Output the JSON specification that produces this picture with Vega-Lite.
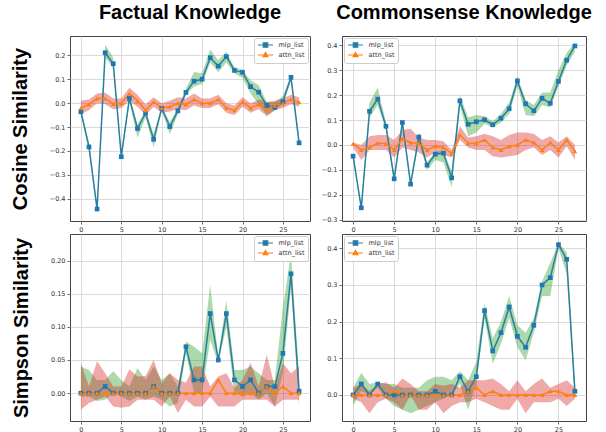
{
"$schema":"https://vega.github.io/schema/vega-lite/v6.json",
"padding":{"left":9,"top":2,"right":0,"bottom":0},
"autosize":{"type":"pad"},
"config":{
 "font":"DejaVu Sans",
 "view":{"stroke":"#444444","strokeWidth":1},
 "axis":{"labelFont":"DejaVu Sans","labelFontSize":6.5,"labelColor":"#333333","tickColor":"#444444","tickSize":3,"tickWidth":0.8,"domain":false,"gridColor":"#d6d6d6","gridWidth":0.9,"labelPadding":2,"titleFont":"Liberation Sans","titleFontSize":20,"titleFontWeight":"bold","titleColor":"#000000"},
 "axisY":{"titlePadding":19},
 "title":{"font":"Liberation Sans","fontSize":20,"fontWeight":"bold","color":"#000000","anchor":"middle","offset":13},
 "legend":{"labelFont":"DejaVu Sans","labelFontSize":6.5,"labelColor":"#333333","fillColor":"#ffffff","strokeColor":"#cccccc","padding":3,"cornerRadius":2,"offset":2,"rowPadding":0,"symbolSize":36,"symbolStrokeWidth":1.2,"symbolOffset":4.5,"labelOffset":9}
},
"data":{"values":[
{"p":"fc","s":"mlp_list","x":0,"y":-0.036,"lo":-0.045,"hi":-0.028},
{"p":"fc","s":"mlp_list","x":1,"y":-0.183,"lo":-0.2,"hi":-0.165},
{"p":"fc","s":"mlp_list","x":2,"y":-0.443,"lo":-0.45,"hi":-0.435},
{"p":"fc","s":"mlp_list","x":3,"y":0.211,"lo":0.19,"hi":0.245},
{"p":"fc","s":"mlp_list","x":4,"y":0.165,"lo":0.15,"hi":0.19},
{"p":"fc","s":"mlp_list","x":5,"y":-0.224,"lo":-0.235,"hi":-0.21},
{"p":"fc","s":"mlp_list","x":6,"y":0.02,"lo":0.005,"hi":0.03},
{"p":"fc","s":"mlp_list","x":7,"y":-0.106,"lo":-0.145,"hi":-0.09},
{"p":"fc","s":"mlp_list","x":8,"y":-0.042,"lo":-0.06,"hi":-0.03},
{"p":"fc","s":"mlp_list","x":9,"y":-0.151,"lo":-0.185,"hi":-0.13},
{"p":"fc","s":"mlp_list","x":10,"y":-0.022,"lo":-0.03,"hi":-0.012},
{"p":"fc","s":"mlp_list","x":11,"y":-0.098,"lo":-0.13,"hi":-0.08},
{"p":"fc","s":"mlp_list","x":12,"y":-0.032,"lo":-0.045,"hi":-0.02},
{"p":"fc","s":"mlp_list","x":13,"y":0.045,"lo":0.035,"hi":0.06},
{"p":"fc","s":"mlp_list","x":14,"y":0.092,"lo":0.07,"hi":0.13},
{"p":"fc","s":"mlp_list","x":15,"y":0.1,"lo":0.08,"hi":0.125},
{"p":"fc","s":"mlp_list","x":16,"y":0.19,"lo":0.17,"hi":0.225},
{"p":"fc","s":"mlp_list","x":17,"y":0.155,"lo":0.13,"hi":0.18},
{"p":"fc","s":"mlp_list","x":18,"y":0.195,"lo":0.17,"hi":0.215},
{"p":"fc","s":"mlp_list","x":19,"y":0.137,"lo":0.125,"hi":0.15},
{"p":"fc","s":"mlp_list","x":20,"y":0.129,"lo":0.105,"hi":0.14},
{"p":"fc","s":"mlp_list","x":21,"y":0.069,"lo":0.04,"hi":0.095},
{"p":"fc","s":"mlp_list","x":22,"y":0.046,"lo":-0.005,"hi":0.075},
{"p":"fc","s":"mlp_list","x":23,"y":-0.01,"lo":-0.05,"hi":0.005},
{"p":"fc","s":"mlp_list","x":24,"y":-0.018,"lo":-0.03,"hi":0.005},
{"p":"fc","s":"mlp_list","x":25,"y":0.006,"lo":-0.005,"hi":0.03},
{"p":"fc","s":"mlp_list","x":26,"y":0.108,"lo":0.095,"hi":0.12},
{"p":"fc","s":"mlp_list","x":27,"y":-0.166,"lo":-0.18,"hi":-0.15},
{"p":"fc","s":"attn_list","x":0,"y":-0.02,"lo":-0.045,"hi":0.01},
{"p":"fc","s":"attn_list","x":1,"y":-0.005,"lo":-0.03,"hi":0.015},
{"p":"fc","s":"attn_list","x":2,"y":0.02,"lo":0.0,"hi":0.04},
{"p":"fc","s":"attn_list","x":3,"y":0.02,"lo":-0.005,"hi":0.045},
{"p":"fc","s":"attn_list","x":4,"y":-0.003,"lo":-0.025,"hi":0.02},
{"p":"fc","s":"attn_list","x":5,"y":0.0,"lo":-0.02,"hi":0.02},
{"p":"fc","s":"attn_list","x":6,"y":0.04,"lo":0.01,"hi":0.065},
{"p":"fc","s":"attn_list","x":7,"y":0.01,"lo":-0.015,"hi":0.035},
{"p":"fc","s":"attn_list","x":8,"y":-0.03,"lo":-0.05,"hi":-0.005},
{"p":"fc","s":"attn_list","x":9,"y":0.005,"lo":-0.015,"hi":0.025},
{"p":"fc","s":"attn_list","x":10,"y":-0.02,"lo":-0.04,"hi":0.0},
{"p":"fc","s":"attn_list","x":11,"y":-0.015,"lo":-0.035,"hi":0.01},
{"p":"fc","s":"attn_list","x":12,"y":0.0,"lo":-0.025,"hi":0.025},
{"p":"fc","s":"attn_list","x":13,"y":-0.005,"lo":-0.03,"hi":0.02},
{"p":"fc","s":"attn_list","x":14,"y":0.015,"lo":-0.01,"hi":0.04},
{"p":"fc","s":"attn_list","x":15,"y":0.0,"lo":-0.02,"hi":0.02},
{"p":"fc","s":"attn_list","x":16,"y":0.0,"lo":-0.02,"hi":0.02},
{"p":"fc","s":"attn_list","x":17,"y":0.015,"lo":-0.005,"hi":0.035},
{"p":"fc","s":"attn_list","x":18,"y":-0.02,"lo":-0.04,"hi":0.0},
{"p":"fc","s":"attn_list","x":19,"y":-0.03,"lo":-0.05,"hi":-0.01},
{"p":"fc","s":"attn_list","x":20,"y":0.005,"lo":-0.015,"hi":0.025},
{"p":"fc","s":"attn_list","x":21,"y":-0.02,"lo":-0.04,"hi":0.0},
{"p":"fc","s":"attn_list","x":22,"y":-0.005,"lo":-0.025,"hi":0.015},
{"p":"fc","s":"attn_list","x":23,"y":-0.025,"lo":-0.055,"hi":0.005},
{"p":"fc","s":"attn_list","x":24,"y":-0.01,"lo":-0.03,"hi":0.01},
{"p":"fc","s":"attn_list","x":25,"y":0.0,"lo":-0.02,"hi":0.02},
{"p":"fc","s":"attn_list","x":26,"y":0.015,"lo":-0.005,"hi":0.035},
{"p":"fc","s":"attn_list","x":27,"y":0.004,"lo":-0.015,"hi":0.025},
{"p":"cc","s":"mlp_list","x":0,"y":-0.045,"lo":-0.055,"hi":-0.035},
{"p":"cc","s":"mlp_list","x":1,"y":-0.252,"lo":-0.26,"hi":-0.245},
{"p":"cc","s":"mlp_list","x":2,"y":0.135,"lo":0.11,"hi":0.17},
{"p":"cc","s":"mlp_list","x":3,"y":0.184,"lo":0.16,"hi":0.23},
{"p":"cc","s":"mlp_list","x":4,"y":0.075,"lo":0.06,"hi":0.09},
{"p":"cc","s":"mlp_list","x":5,"y":-0.136,"lo":-0.15,"hi":-0.12},
{"p":"cc","s":"mlp_list","x":6,"y":0.09,"lo":0.08,"hi":0.1},
{"p":"cc","s":"mlp_list","x":7,"y":-0.157,"lo":-0.17,"hi":-0.145},
{"p":"cc","s":"mlp_list","x":8,"y":0.032,"lo":0.015,"hi":0.05},
{"p":"cc","s":"mlp_list","x":9,"y":-0.081,"lo":-0.1,"hi":-0.07},
{"p":"cc","s":"mlp_list","x":10,"y":-0.037,"lo":-0.06,"hi":-0.025},
{"p":"cc","s":"mlp_list","x":11,"y":-0.033,"lo":-0.07,"hi":-0.025},
{"p":"cc","s":"mlp_list","x":12,"y":-0.132,"lo":-0.17,"hi":-0.105},
{"p":"cc","s":"mlp_list","x":13,"y":0.177,"lo":0.16,"hi":0.2},
{"p":"cc","s":"mlp_list","x":14,"y":0.083,"lo":0.035,"hi":0.11},
{"p":"cc","s":"mlp_list","x":15,"y":0.093,"lo":0.05,"hi":0.12},
{"p":"cc","s":"mlp_list","x":16,"y":0.101,"lo":0.085,"hi":0.115},
{"p":"cc","s":"mlp_list","x":17,"y":0.081,"lo":0.07,"hi":0.095},
{"p":"cc","s":"mlp_list","x":18,"y":0.107,"lo":0.09,"hi":0.125},
{"p":"cc","s":"mlp_list","x":19,"y":0.145,"lo":0.125,"hi":0.17},
{"p":"cc","s":"mlp_list","x":20,"y":0.257,"lo":0.235,"hi":0.275},
{"p":"cc","s":"mlp_list","x":21,"y":0.165,"lo":0.12,"hi":0.18},
{"p":"cc","s":"mlp_list","x":22,"y":0.137,"lo":0.115,"hi":0.16},
{"p":"cc","s":"mlp_list","x":23,"y":0.187,"lo":0.16,"hi":0.21},
{"p":"cc","s":"mlp_list","x":24,"y":0.167,"lo":0.15,"hi":0.21},
{"p":"cc","s":"mlp_list","x":25,"y":0.255,"lo":0.235,"hi":0.3},
{"p":"cc","s":"mlp_list","x":26,"y":0.34,"lo":0.32,"hi":0.37},
{"p":"cc","s":"mlp_list","x":27,"y":0.397,"lo":0.375,"hi":0.41},
{"p":"cc","s":"attn_list","x":0,"y":0.005,"lo":-0.01,"hi":0.01},
{"p":"cc","s":"attn_list","x":1,"y":-0.02,"lo":-0.06,"hi":0.0},
{"p":"cc","s":"attn_list","x":2,"y":-0.01,"lo":-0.02,"hi":0.035},
{"p":"cc","s":"attn_list","x":3,"y":0.008,"lo":-0.02,"hi":0.04},
{"p":"cc","s":"attn_list","x":4,"y":0.005,"lo":-0.02,"hi":0.04},
{"p":"cc","s":"attn_list","x":5,"y":-0.02,"lo":-0.05,"hi":0.02},
{"p":"cc","s":"attn_list","x":6,"y":0.025,"lo":-0.01,"hi":0.06},
{"p":"cc","s":"attn_list","x":7,"y":0.01,"lo":-0.02,"hi":0.065},
{"p":"cc","s":"attn_list","x":8,"y":0.005,"lo":-0.03,"hi":0.03},
{"p":"cc","s":"attn_list","x":9,"y":-0.02,"lo":-0.05,"hi":0.02},
{"p":"cc","s":"attn_list","x":10,"y":-0.005,"lo":-0.03,"hi":0.02},
{"p":"cc","s":"attn_list","x":11,"y":-0.01,"lo":-0.04,"hi":0.015},
{"p":"cc","s":"attn_list","x":12,"y":-0.035,"lo":-0.05,"hi":-0.02},
{"p":"cc","s":"attn_list","x":13,"y":0.04,"lo":0.02,"hi":0.075},
{"p":"cc","s":"attn_list","x":14,"y":0.008,"lo":-0.01,"hi":0.03},
{"p":"cc","s":"attn_list","x":15,"y":0.007,"lo":-0.02,"hi":0.035},
{"p":"cc","s":"attn_list","x":16,"y":0.02,"lo":-0.02,"hi":0.045},
{"p":"cc","s":"attn_list","x":17,"y":-0.01,"lo":-0.045,"hi":0.035},
{"p":"cc","s":"attn_list","x":18,"y":-0.02,"lo":-0.05,"hi":0.02},
{"p":"cc","s":"attn_list","x":19,"y":-0.005,"lo":-0.045,"hi":0.04},
{"p":"cc","s":"attn_list","x":20,"y":0.0,"lo":-0.04,"hi":0.05},
{"p":"cc","s":"attn_list","x":21,"y":0.02,"lo":-0.02,"hi":0.05},
{"p":"cc","s":"attn_list","x":22,"y":0.01,"lo":-0.01,"hi":0.045},
{"p":"cc","s":"attn_list","x":23,"y":-0.02,"lo":-0.04,"hi":0.02},
{"p":"cc","s":"attn_list","x":24,"y":0.01,"lo":-0.02,"hi":0.035},
{"p":"cc","s":"attn_list","x":25,"y":-0.02,"lo":-0.05,"hi":0.01},
{"p":"cc","s":"attn_list","x":26,"y":0.02,"lo":-0.005,"hi":0.035},
{"p":"cc","s":"attn_list","x":27,"y":-0.025,"lo":-0.06,"hi":0.0},
{"p":"fs","s":"mlp_list","x":0,"y":0,"lo":-0.005,"hi":0.04},
{"p":"fs","s":"mlp_list","x":1,"y":0,"lo":-0.005,"hi":0.035},
{"p":"fs","s":"mlp_list","x":2,"y":0,"lo":-0.012,"hi":0.02},
{"p":"fs","s":"mlp_list","x":3,"y":0.01,"lo":-0.01,"hi":0.02},
{"p":"fs","s":"mlp_list","x":4,"y":0,"lo":0.0,"hi":0.033},
{"p":"fs","s":"mlp_list","x":5,"y":0,"lo":-0.005,"hi":0.02},
{"p":"fs","s":"mlp_list","x":6,"y":0,"lo":-0.012,"hi":0.01},
{"p":"fs","s":"mlp_list","x":7,"y":0,"lo":-0.005,"hi":0.038},
{"p":"fs","s":"mlp_list","x":8,"y":0,"lo":-0.01,"hi":0.02},
{"p":"fs","s":"mlp_list","x":9,"y":0.01,"lo":-0.005,"hi":0.04},
{"p":"fs","s":"mlp_list","x":10,"y":0,"lo":-0.01,"hi":0.02},
{"p":"fs","s":"mlp_list","x":11,"y":0,"lo":-0.02,"hi":0.03},
{"p":"fs","s":"mlp_list","x":12,"y":0,"lo":-0.015,"hi":0.01},
{"p":"fs","s":"mlp_list","x":13,"y":0.07,"lo":0.06,"hi":0.078},
{"p":"fs","s":"mlp_list","x":14,"y":0.02,"lo":0.0,"hi":0.07},
{"p":"fs","s":"mlp_list","x":15,"y":0.02,"lo":0.0,"hi":0.06},
{"p":"fs","s":"mlp_list","x":16,"y":0.12,"lo":0.08,"hi":0.163},
{"p":"fs","s":"mlp_list","x":17,"y":0.05,"lo":0.045,"hi":0.055},
{"p":"fs","s":"mlp_list","x":18,"y":0.12,"lo":0.1,"hi":0.14},
{"p":"fs","s":"mlp_list","x":19,"y":0.02,"lo":0.0,"hi":0.035},
{"p":"fs","s":"mlp_list","x":20,"y":0.01,"lo":-0.005,"hi":0.035},
{"p":"fs","s":"mlp_list","x":21,"y":0.02,"lo":0.0,"hi":0.04},
{"p":"fs","s":"mlp_list","x":22,"y":0,"lo":-0.01,"hi":0.03},
{"p":"fs","s":"mlp_list","x":23,"y":0.01,"lo":0.0,"hi":0.02},
{"p":"fs","s":"mlp_list","x":24,"y":0.01,"lo":-0.02,"hi":0.02},
{"p":"fs","s":"mlp_list","x":25,"y":0.06,"lo":0.03,"hi":0.13},
{"p":"fs","s":"mlp_list","x":26,"y":0.18,"lo":0.16,"hi":0.21},
{"p":"fs","s":"mlp_list","x":27,"y":0.003,"lo":-0.022,"hi":0.025},
{"p":"fs","s":"attn_list","x":0,"y":0,"lo":-0.025,"hi":0.045},
{"p":"fs","s":"attn_list","x":1,"y":0,"lo":-0.015,"hi":0.01},
{"p":"fs","s":"attn_list","x":2,"y":0,"lo":-0.01,"hi":0.048},
{"p":"fs","s":"attn_list","x":3,"y":0,"lo":-0.005,"hi":0.03},
{"p":"fs","s":"attn_list","x":4,"y":0,"lo":-0.02,"hi":0.01},
{"p":"fs","s":"attn_list","x":5,"y":0,"lo":-0.022,"hi":0.01},
{"p":"fs","s":"attn_list","x":6,"y":0,"lo":-0.02,"hi":0.036},
{"p":"fs","s":"attn_list","x":7,"y":0,"lo":-0.01,"hi":0.025},
{"p":"fs","s":"attn_list","x":8,"y":0,"lo":-0.01,"hi":0.026},
{"p":"fs","s":"attn_list","x":9,"y":0.01,"lo":-0.01,"hi":0.05},
{"p":"fs","s":"attn_list","x":10,"y":0,"lo":-0.02,"hi":0.015},
{"p":"fs","s":"attn_list","x":11,"y":0,"lo":-0.005,"hi":0.03},
{"p":"fs","s":"attn_list","x":12,"y":0,"lo":-0.03,"hi":0.02},
{"p":"fs","s":"attn_list","x":13,"y":0,"lo":-0.01,"hi":0.016},
{"p":"fs","s":"attn_list","x":14,"y":0,"lo":-0.02,"hi":0.04},
{"p":"fs","s":"attn_list","x":15,"y":0,"lo":-0.02,"hi":0.04},
{"p":"fs","s":"attn_list","x":16,"y":0,"lo":-0.005,"hi":0.01},
{"p":"fs","s":"attn_list","x":17,"y":0.02,"lo":-0.02,"hi":0.025},
{"p":"fs","s":"attn_list","x":18,"y":0,"lo":-0.02,"hi":0.03},
{"p":"fs","s":"attn_list","x":19,"y":0,"lo":-0.02,"hi":0.008},
{"p":"fs","s":"attn_list","x":20,"y":0,"lo":-0.01,"hi":0.02},
{"p":"fs","s":"attn_list","x":21,"y":0,"lo":-0.01,"hi":0.046},
{"p":"fs","s":"attn_list","x":22,"y":0,"lo":-0.01,"hi":0.01},
{"p":"fs","s":"attn_list","x":23,"y":0.01,"lo":-0.01,"hi":0.058},
{"p":"fs","s":"attn_list","x":24,"y":0,"lo":-0.02,"hi":0.01},
{"p":"fs","s":"attn_list","x":25,"y":0.01,"lo":-0.01,"hi":0.045},
{"p":"fs","s":"attn_list","x":26,"y":0,"lo":-0.01,"hi":0.03},
{"p":"fs","s":"attn_list","x":27,"y":0,"lo":-0.01,"hi":0.04},
{"p":"cs","s":"mlp_list","x":0,"y":0,"lo":-0.03,"hi":0.02},
{"p":"cs","s":"mlp_list","x":1,"y":0.03,"lo":0.01,"hi":0.06},
{"p":"cs","s":"mlp_list","x":2,"y":0,"lo":0.0,"hi":0.03},
{"p":"cs","s":"mlp_list","x":3,"y":0.03,"lo":0.02,"hi":0.035},
{"p":"cs","s":"mlp_list","x":4,"y":0,"lo":-0.01,"hi":0.03},
{"p":"cs","s":"mlp_list","x":5,"y":0,"lo":-0.03,"hi":0.03},
{"p":"cs","s":"mlp_list","x":6,"y":0,"lo":-0.04,"hi":0.02},
{"p":"cs","s":"mlp_list","x":7,"y":0,"lo":-0.05,"hi":0.02},
{"p":"cs","s":"mlp_list","x":8,"y":0,"lo":-0.04,"hi":0.02},
{"p":"cs","s":"mlp_list","x":9,"y":0,"lo":-0.03,"hi":0.04},
{"p":"cs","s":"mlp_list","x":10,"y":0.01,"lo":-0.02,"hi":0.05},
{"p":"cs","s":"mlp_list","x":11,"y":0,"lo":-0.01,"hi":0.05},
{"p":"cs","s":"mlp_list","x":12,"y":0,"lo":0.0,"hi":0.04},
{"p":"cs","s":"mlp_list","x":13,"y":0.05,"lo":0.03,"hi":0.065},
{"p":"cs","s":"mlp_list","x":14,"y":0.01,"lo":-0.04,"hi":0.04},
{"p":"cs","s":"mlp_list","x":15,"y":0.05,"lo":0.03,"hi":0.09},
{"p":"cs","s":"mlp_list","x":16,"y":0.23,"lo":0.21,"hi":0.25},
{"p":"cs","s":"mlp_list","x":17,"y":0.12,"lo":0.085,"hi":0.155},
{"p":"cs","s":"mlp_list","x":18,"y":0.17,"lo":0.14,"hi":0.2},
{"p":"cs","s":"mlp_list","x":19,"y":0.24,"lo":0.21,"hi":0.27},
{"p":"cs","s":"mlp_list","x":20,"y":0.16,"lo":0.13,"hi":0.19},
{"p":"cs","s":"mlp_list","x":21,"y":0.13,"lo":0.095,"hi":0.17},
{"p":"cs","s":"mlp_list","x":22,"y":0.19,"lo":0.17,"hi":0.21},
{"p":"cs","s":"mlp_list","x":23,"y":0.3,"lo":0.27,"hi":0.31},
{"p":"cs","s":"mlp_list","x":24,"y":0.32,"lo":0.27,"hi":0.36},
{"p":"cs","s":"mlp_list","x":25,"y":0.41,"lo":0.4,"hi":0.415},
{"p":"cs","s":"mlp_list","x":26,"y":0.37,"lo":0.33,"hi":0.39},
{"p":"cs","s":"mlp_list","x":27,"y":0.01,"lo":-0.02,"hi":0.02},
{"p":"cs","s":"attn_list","x":0,"y":0,"lo":-0.01,"hi":0.02},
{"p":"cs","s":"attn_list","x":1,"y":0,"lo":-0.02,"hi":0.03},
{"p":"cs","s":"attn_list","x":2,"y":0,"lo":-0.05,"hi":0.01},
{"p":"cs","s":"attn_list","x":3,"y":0,"lo":-0.02,"hi":0.03},
{"p":"cs","s":"attn_list","x":4,"y":0,"lo":-0.01,"hi":0.035},
{"p":"cs","s":"attn_list","x":5,"y":0.01,"lo":-0.02,"hi":0.02},
{"p":"cs","s":"attn_list","x":6,"y":0,"lo":-0.04,"hi":0.045},
{"p":"cs","s":"attn_list","x":7,"y":0,"lo":0.0,"hi":0.03},
{"p":"cs","s":"attn_list","x":8,"y":0,"lo":-0.04,"hi":0.01},
{"p":"cs","s":"attn_list","x":9,"y":0,"lo":-0.04,"hi":0.01},
{"p":"cs","s":"attn_list","x":10,"y":0,"lo":-0.02,"hi":0.03},
{"p":"cs","s":"attn_list","x":11,"y":0,"lo":-0.05,"hi":0.025},
{"p":"cs","s":"attn_list","x":12,"y":0,"lo":-0.03,"hi":0.03},
{"p":"cs","s":"attn_list","x":13,"y":0,"lo":-0.02,"hi":0.02},
{"p":"cs","s":"attn_list","x":14,"y":0.01,"lo":-0.02,"hi":0.04},
{"p":"cs","s":"attn_list","x":15,"y":0.02,"lo":-0.01,"hi":0.04},
{"p":"cs","s":"attn_list","x":16,"y":0,"lo":-0.02,"hi":0.04},
{"p":"cs","s":"attn_list","x":17,"y":0.01,"lo":-0.03,"hi":0.045},
{"p":"cs","s":"attn_list","x":18,"y":0,"lo":-0.04,"hi":0.03},
{"p":"cs","s":"attn_list","x":19,"y":0,"lo":-0.04,"hi":0.01},
{"p":"cs","s":"attn_list","x":20,"y":0,"lo":-0.01,"hi":0.04},
{"p":"cs","s":"attn_list","x":21,"y":0,"lo":-0.05,"hi":0.01},
{"p":"cs","s":"attn_list","x":22,"y":0,"lo":-0.02,"hi":0.03},
{"p":"cs","s":"attn_list","x":23,"y":0,"lo":-0.02,"hi":0.045},
{"p":"cs","s":"attn_list","x":24,"y":0.01,"lo":-0.02,"hi":0.02},
{"p":"cs","s":"attn_list","x":25,"y":0.01,"lo":-0.01,"hi":0.03},
{"p":"cs","s":"attn_list","x":26,"y":0,"lo":-0.03,"hi":0.04},
{"p":"cs","s":"attn_list","x":27,"y":0,"lo":-0.01,"hi":0.02}
]},
"columns":2,
"spacing":{"row":13,"column":32},
"bounds":"flush",
"resolve":{"scale":{"color":"independent","x":"independent","y":"independent"},"legend":{"color":"independent"}},
"concat":[
{"width":240,"height":185,"title":{"text":"Factual Knowledge"},
 "transform":[{"filter":"datum.p === 'fc'"}],
 "encoding":{"x":{"field":"x","type":"quantitative","scale":{"domain":[-1.35,28.35],"nice":false,"zero":false},"axis":{"values":[0,5,10,15,20,25],"title":null}},
  "y":{"field":"y","type":"quantitative","scale":{"domain":[-0.493,0.281],"nice":false,"zero":false},"axis":{"values":[-0.4,-0.3,-0.2,-0.1,0,0.1,0.2],"format":".1f","title":"Cosine Similarity"}}},
 "layer":[
  {"transform":[{"filter":"datum.s === 'mlp_list'"}],"mark":{"type":"area","opacity":0.4,"color":"#2ca02c"},"encoding":{"y":{"field":"lo","type":"quantitative"},"y2":{"field":"hi"}}},
  {"transform":[{"filter":"datum.s === 'attn_list'"}],"mark":{"type":"area","opacity":0.4,"color":"#d62728"},"encoding":{"y":{"field":"lo","type":"quantitative"},"y2":{"field":"hi"}}},
  {"mark":{"type":"line","strokeWidth":1.5},"encoding":{"color":{"field":"s","type":"nominal","scale":{"domain":["mlp_list","attn_list"],"range":["#2a7fa0","#ff7f0e"]},"legend":{"title":null,"orient":"top-right","encode":{"symbols":{"update":{"shape":{"signal":"datum.value === 'mlp_list' ? 'M-2.5,0H2.5M-0.75,-0.75H0.75V0.75H-0.75Z' : 'M-2.5,0H2.5M0,-0.85L0.8,0.55H-0.8Z'"},"fill":{"signal":"datum.value === 'mlp_list' ? '#1f77b4' : '#ff7f0e'"},"stroke":{"signal":"datum.value === 'mlp_list' ? '#1f77b4' : '#ff7f0e'"},"opacity":{"value":1}}}}}}}},
  {"mark":{"type":"point","filled":true,"size":22,"opacity":1},"encoding":{"fill":{"field":"s","type":"nominal","scale":{"domain":["mlp_list","attn_list"],"range":["#1f77b4","#ff7f0e"]},"legend":null},"shape":{"field":"s","type":"nominal","scale":{"domain":["mlp_list","attn_list"],"range":["square","triangle-up"]},"legend":null}}}
 ]},
{"width":244,"height":185,"title":{"text":"Commonsense Knowledge"},
 "transform":[{"filter":"datum.p === 'cc'"}],
 "encoding":{"x":{"field":"x","type":"quantitative","scale":{"domain":[-1.35,28.35],"nice":false,"zero":false},"axis":{"values":[0,5,10,15,20,25],"title":null}},
  "y":{"field":"y","type":"quantitative","scale":{"domain":[-0.305,0.437],"nice":false,"zero":false},"axis":{"values":[-0.3,-0.2,-0.1,0,0.1,0.2,0.3,0.4],"format":".1f","title":null}}},
 "layer":[
  {"transform":[{"filter":"datum.s === 'mlp_list'"}],"mark":{"type":"area","opacity":0.4,"color":"#2ca02c"},"encoding":{"y":{"field":"lo","type":"quantitative"},"y2":{"field":"hi"}}},
  {"transform":[{"filter":"datum.s === 'attn_list'"}],"mark":{"type":"area","opacity":0.4,"color":"#d62728"},"encoding":{"y":{"field":"lo","type":"quantitative"},"y2":{"field":"hi"}}},
  {"mark":{"type":"line","strokeWidth":1.5},"encoding":{"color":{"field":"s","type":"nominal","scale":{"domain":["mlp_list","attn_list"],"range":["#2a7fa0","#ff7f0e"]},"legend":{"title":null,"orient":"top-left","encode":{"symbols":{"update":{"shape":{"signal":"datum.value === 'mlp_list' ? 'M-2.5,0H2.5M-0.75,-0.75H0.75V0.75H-0.75Z' : 'M-2.5,0H2.5M0,-0.85L0.8,0.55H-0.8Z'"},"fill":{"signal":"datum.value === 'mlp_list' ? '#1f77b4' : '#ff7f0e'"},"stroke":{"signal":"datum.value === 'mlp_list' ? '#1f77b4' : '#ff7f0e'"},"opacity":{"value":1}}}}}}}},
  {"mark":{"type":"point","filled":true,"size":22,"opacity":1},"encoding":{"fill":{"field":"s","type":"nominal","scale":{"domain":["mlp_list","attn_list"],"range":["#1f77b4","#ff7f0e"]},"legend":null},"shape":{"field":"s","type":"nominal","scale":{"domain":["mlp_list","attn_list"],"range":["square","triangle-up"]},"legend":null}}}
 ]},
{"width":240,"height":187,
 "transform":[{"filter":"datum.p === 'fs'"}],
 "encoding":{"x":{"field":"x","type":"quantitative","scale":{"domain":[-1.35,28.35],"nice":false,"zero":false},"axis":{"values":[0,5,10,15,20,25],"title":null}},
  "y":{"field":"y","type":"quantitative","scale":{"domain":[-0.042,0.24],"nice":false,"zero":false},"axis":{"values":[0,0.05,0.1,0.15,0.2],"format":".2f","title":"Simpson Similarity"}}},
 "layer":[
  {"transform":[{"filter":"datum.s === 'mlp_list'"}],"mark":{"type":"area","opacity":0.4,"color":"#2ca02c"},"encoding":{"y":{"field":"lo","type":"quantitative"},"y2":{"field":"hi"}}},
  {"transform":[{"filter":"datum.s === 'attn_list'"}],"mark":{"type":"area","opacity":0.4,"color":"#d62728"},"encoding":{"y":{"field":"lo","type":"quantitative"},"y2":{"field":"hi"}}},
  {"mark":{"type":"line","strokeWidth":1.5},"encoding":{"color":{"field":"s","type":"nominal","scale":{"domain":["mlp_list","attn_list"],"range":["#2a7fa0","#ff7f0e"]},"legend":{"title":null,"orient":"top-right","encode":{"symbols":{"update":{"shape":{"signal":"datum.value === 'mlp_list' ? 'M-2.5,0H2.5M-0.75,-0.75H0.75V0.75H-0.75Z' : 'M-2.5,0H2.5M0,-0.85L0.8,0.55H-0.8Z'"},"fill":{"signal":"datum.value === 'mlp_list' ? '#1f77b4' : '#ff7f0e'"},"stroke":{"signal":"datum.value === 'mlp_list' ? '#1f77b4' : '#ff7f0e'"},"opacity":{"value":1}}}}}}}},
  {"mark":{"type":"point","filled":true,"size":22,"opacity":1},"encoding":{"fill":{"field":"s","type":"nominal","scale":{"domain":["mlp_list","attn_list"],"range":["#1f77b4","#ff7f0e"]},"legend":null},"shape":{"field":"s","type":"nominal","scale":{"domain":["mlp_list","attn_list"],"range":["square","triangle-up"]},"legend":null}}}
 ]},
{"width":244,"height":187,
 "transform":[{"filter":"datum.p === 'cs'"}],
 "encoding":{"x":{"field":"x","type":"quantitative","scale":{"domain":[-1.35,28.35],"nice":false,"zero":false},"axis":{"values":[0,5,10,15,20,25],"title":null}},
  "y":{"field":"y","type":"quantitative","scale":{"domain":[-0.071,0.439],"nice":false,"zero":false},"axis":{"values":[0,0.1,0.2,0.3,0.4],"format":".1f","title":null}}},
 "layer":[
  {"transform":[{"filter":"datum.s === 'mlp_list'"}],"mark":{"type":"area","opacity":0.4,"color":"#2ca02c"},"encoding":{"y":{"field":"lo","type":"quantitative"},"y2":{"field":"hi"}}},
  {"transform":[{"filter":"datum.s === 'attn_list'"}],"mark":{"type":"area","opacity":0.4,"color":"#d62728"},"encoding":{"y":{"field":"lo","type":"quantitative"},"y2":{"field":"hi"}}},
  {"mark":{"type":"line","strokeWidth":1.5},"encoding":{"color":{"field":"s","type":"nominal","scale":{"domain":["mlp_list","attn_list"],"range":["#2a7fa0","#ff7f0e"]},"legend":{"title":null,"orient":"top-left","encode":{"symbols":{"update":{"shape":{"signal":"datum.value === 'mlp_list' ? 'M-2.5,0H2.5M-0.75,-0.75H0.75V0.75H-0.75Z' : 'M-2.5,0H2.5M0,-0.85L0.8,0.55H-0.8Z'"},"fill":{"signal":"datum.value === 'mlp_list' ? '#1f77b4' : '#ff7f0e'"},"stroke":{"signal":"datum.value === 'mlp_list' ? '#1f77b4' : '#ff7f0e'"},"opacity":{"value":1}}}}}}}},
  {"mark":{"type":"point","filled":true,"size":22,"opacity":1},"encoding":{"fill":{"field":"s","type":"nominal","scale":{"domain":["mlp_list","attn_list"],"range":["#1f77b4","#ff7f0e"]},"legend":null},"shape":{"field":"s","type":"nominal","scale":{"domain":["mlp_list","attn_list"],"range":["square","triangle-up"]},"legend":null}}}
 ]}
]
}
